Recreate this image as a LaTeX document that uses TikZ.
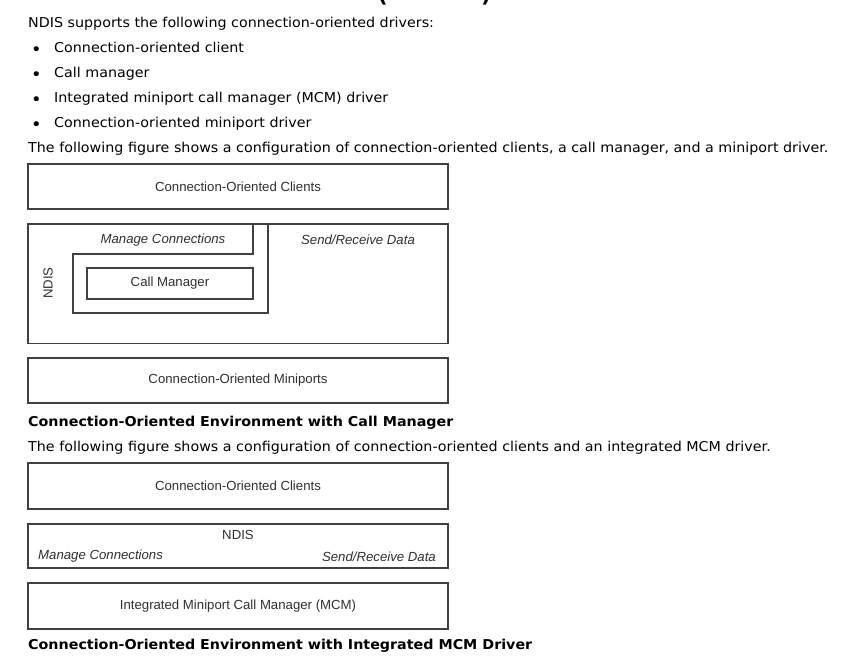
\documentclass[tikz,border=0pt]{standalone}
\usepackage{fontspec}
\setmainfont{DejaVu Sans}[FakeStretch=1.05]
\newfontfamily\arialf{Liberation Sans}
\definecolor{boxc}{HTML}{404040}
\definecolor{labc}{HTML}{303030}
\definecolor{txtc}{HTML}{000000}
\begin{document}
\begin{tikzpicture}[x=1pt,y=-1pt,
  body/.style={anchor=mid west, inner sep=0pt, font=\fontsize{13.6}{16}\selectfont, text=txtc},
  capt/.style={anchor=mid west, inner sep=0pt, font=\fontsize{13.6}{16}\selectfont\bfseries, text=txtc},
  blt/.style={anchor=mid, inner sep=0pt, font=\fontsize{17}{18}\selectfont, text=txtc},
  blk/.style={draw=boxc, line width=1.3pt, minimum width=420pt, inner sep=0pt,
              font=\arialf\fontsize{13.2}{15}\selectfont, text=labc},
  lab/.style={inner sep=0pt, font=\arialf\fontsize{13.2}{15}\selectfont, text=labc},
  ilab/.style={lab, font=\arialf\itshape\fontsize{13.2}{15}\selectfont},
  ln/.style={draw=boxc, line width=1.3pt}
]
\useasboundingbox (0,0) rectangle (843,661);
% clipped heading remnants
\begin{scope}
  \clip (0,0) rectangle (843,5);
  \node[inner sep=0pt, anchor=south, font=\fontsize{20}{24}\selectfont\bfseries] (hp1) at (383,5) {(};
  \node[inner sep=0pt, anchor=south, font=\fontsize{20}{24}\selectfont\bfseries] (hp2) at (486,5) {)};
\end{scope}

\node[body] (t1) at (28,25) {NDIS supports the following connection-oriented drivers:};
\node[body] (l1) at (54,49.5) {Connection-oriented client};
\node[blt] (b1) at (36.5,53) {\textbullet};
\node[body] (l2) at (54,74.5) {Call manager};
\node[blt] (b2) at (36.5,78) {\textbullet};
\node[body] (l3) at (54,99.5) {Integrated miniport call manager (MCM) driver};
\node[blt] (b3) at (36.5,103) {\textbullet};
\node[body] (l4) at (54,124.5) {Connection-oriented miniport driver};
\node[blt] (b4) at (36.5,128) {\textbullet};
\node[body] (t2) at (28,150) {The following figure shows a configuration of connection-oriented clients, a call manager, and a miniport driver.};

% Figure 1
\node[blk, minimum height=45pt] (cl1) at (238,186.5) {Connection-Oriented Clients};
\node[blk, minimum height=119.5pt] (nd1) at (238,283.75) {};
\draw[ln] (253,224) -- (253,254) -- (73,254) -- (73,313) -- (268,313) -- (268,224);
\node[ilab] (mc1) at (163,240) {Manage Connections};
\node[ilab] (sr1) at (358,239.5) {Send/Receive Data};
\node[lab, rotate=90] (ndl1) at (48,283) {NDIS};
\node[draw=boxc, line width=1.3pt, minimum width=166pt, minimum height=31pt, inner sep=0pt,
      font=\arialf\fontsize{13.2}{15}\selectfont, text=labc] (cm1) at (170,283.5) {Call Manager};
\node[blk, minimum height=45pt] (mp1) at (238,380.5) {Connection-Oriented Miniports};
\node[capt] (c1) at (28,424) {Connection-Oriented Environment with Call Manager};

% Figure 2
\node[body] (t3) at (28,449) {The following figure shows a configuration of connection-oriented clients and an integrated MCM driver.};
\node[blk, minimum height=46pt] (cl2) at (238,486) {Connection-Oriented Clients};
\node[blk, minimum height=44pt] (nd2) at (238,546) {};
\node[lab] (ndl2) at (238,534.5) {NDIS};
\node[ilab, anchor=west] (mc2) at (38,556.5) {Manage Connections};
\node[ilab, anchor=east] (sr2) at (436,556.5) {Send/Receive Data};
\node[blk, minimum height=46pt] (mcm) at (238,606) {Integrated Miniport Call Manager (MCM)};
\node[capt] (c2) at (28,647) {Connection-Oriented Environment with Integrated MCM Driver};
\end{tikzpicture}
\end{document}
